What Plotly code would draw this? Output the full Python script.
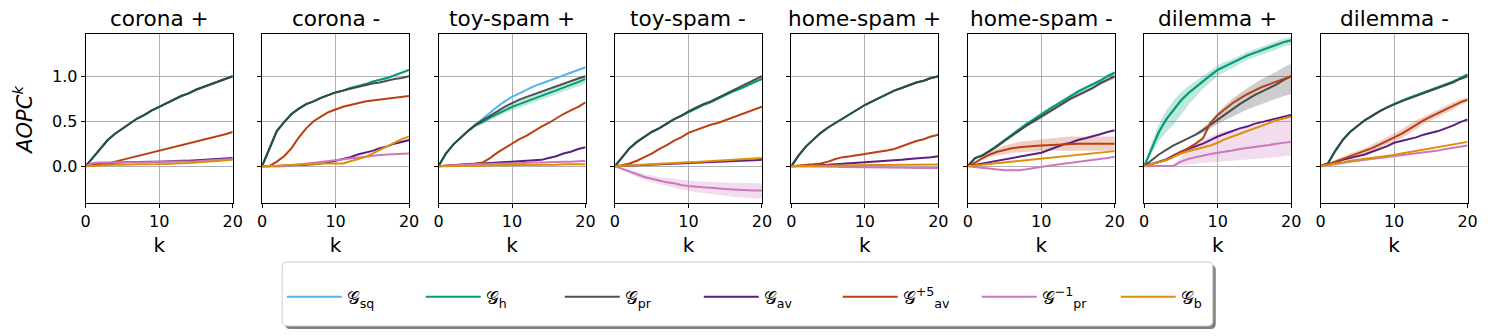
import plotly.graph_objects as go

# ---------------- data ----------------
k = list(range(21))

panel_titles = ["corona +", "corona -", "toy-spam +", "toy-spam -",
                "home-spam +", "home-spam -", "dilemma +", "dilemma -"]

series_keys = ["sq", "h", "pr", "av", "av5", "pr1", "b"]
series_names = ["𝒢<sub>sq</sub>", "𝒢<sub>h</sub>", "𝒢<sub>pr</sub>", "𝒢<sub>av</sub>",
                "𝒢<sup>+5</sup><sub>av</sub>", "𝒢<sup>−1</sup><sub>pr</sub>", "𝒢<sub>b</sub>"]
series_colors = ["#56B4E9", "#029E73", "#3D3D3D", "#5C1F80", "#BA4012", "#CC78BC", "#DE8F05"]

corona_pos = dict(
    sq=[0, 0.10, 0.20, 0.29, 0.36, 0.42, 0.47, 0.53, 0.57, 0.62, 0.66, 0.70, 0.74, 0.78, 0.81, 0.85, 0.88, 0.91, 0.94, 0.97, 1.0],
    h=[0, 0.10, 0.20, 0.29, 0.36, 0.42, 0.47, 0.53, 0.57, 0.62, 0.66, 0.70, 0.74, 0.78, 0.81, 0.85, 0.88, 0.91, 0.94, 0.97, 1.0],
    pr=[0, 0.10, 0.20, 0.29, 0.36, 0.42, 0.47, 0.53, 0.57, 0.62, 0.66, 0.70, 0.74, 0.78, 0.81, 0.85, 0.88, 0.91, 0.94, 0.97, 1.0],
    av=[0, 0.02, 0.03, 0.035, 0.04, 0.04, 0.045, 0.045, 0.05, 0.05, 0.05, 0.055, 0.055, 0.06, 0.06, 0.065, 0.07, 0.075, 0.08, 0.085, 0.09],
    av5=[0, 0.01, 0.02, 0.03, 0.05, 0.07, 0.09, 0.11, 0.13, 0.15, 0.17, 0.19, 0.21, 0.23, 0.25, 0.27, 0.29, 0.31, 0.33, 0.355, 0.38],
    pr1=[0, 0.035, 0.04, 0.04, 0.04, 0.04, 0.045, 0.045, 0.045, 0.045, 0.05, 0.05, 0.05, 0.05, 0.055, 0.055, 0.06, 0.065, 0.07, 0.075, 0.08],
    b=[0, 0.005, 0.01, 0.01, 0.015, 0.015, 0.02, 0.02, 0.02, 0.02, 0.025, 0.025, 0.03, 0.03, 0.035, 0.04, 0.045, 0.05, 0.06, 0.065, 0.07],
)
corona_neg = dict(
    sq=[0, 0.20, 0.39, 0.49, 0.58, 0.64, 0.69, 0.72, 0.76, 0.79, 0.82, 0.84, 0.87, 0.89, 0.91, 0.94, 0.96, 0.98, 1.01, 1.04, 1.07],
    h=[0, 0.20, 0.39, 0.49, 0.58, 0.64, 0.69, 0.72, 0.76, 0.79, 0.82, 0.84, 0.87, 0.89, 0.91, 0.94, 0.96, 0.98, 1.01, 1.04, 1.07],
    pr=[0, 0.20, 0.39, 0.49, 0.58, 0.64, 0.69, 0.72, 0.76, 0.79, 0.82, 0.84, 0.86, 0.88, 0.90, 0.92, 0.93, 0.95, 0.97, 0.98, 1.0],
    av=[0, 0.0, 0.0, 0.005, 0.01, 0.01, 0.015, 0.02, 0.03, 0.04, 0.06, 0.08, 0.10, 0.13, 0.15, 0.17, 0.20, 0.22, 0.25, 0.27, 0.29],
    av5=[0, 0.0, 0.05, 0.11, 0.20, 0.32, 0.42, 0.50, 0.55, 0.60, 0.63, 0.66, 0.68, 0.70, 0.72, 0.73, 0.74, 0.75, 0.76, 0.77, 0.78],
    pr1=[0, -0.005, -0.005, 0.0, 0.01, 0.02, 0.03, 0.04, 0.05, 0.06, 0.07, 0.08, 0.09, 0.10, 0.11, 0.12, 0.125, 0.13, 0.135, 0.14, 0.14],
    b=[0, 0.0, 0.005, 0.01, 0.015, 0.02, 0.025, 0.03, 0.03, 0.03, 0.03, 0.03, 0.055, 0.08, 0.10, 0.14, 0.18, 0.22, 0.26, 0.30, 0.33],
)
toyspam_pos = dict(
    sq=[0, 0.14, 0.24, 0.32, 0.39, 0.46, 0.53, 0.60, 0.66, 0.72, 0.77, 0.81, 0.85, 0.89, 0.92, 0.95, 0.98, 1.01, 1.04, 1.07, 1.10],
    h=[0, 0.14, 0.24, 0.32, 0.39, 0.45, 0.49, 0.54, 0.58, 0.62, 0.66, 0.69, 0.72, 0.75, 0.78, 0.81, 0.84, 0.87, 0.90, 0.935, 0.97],
    pr=[0, 0.14, 0.24, 0.32, 0.39, 0.46, 0.51, 0.56, 0.61, 0.66, 0.70, 0.74, 0.77, 0.80, 0.83, 0.86, 0.89, 0.92, 0.95, 0.975, 1.0],
    av=[0, 0.005, 0.01, 0.015, 0.02, 0.025, 0.03, 0.035, 0.04, 0.045, 0.05, 0.055, 0.06, 0.065, 0.07, 0.09, 0.11, 0.14, 0.16, 0.19, 0.21],
    av5=[0, 0.005, 0.01, 0.015, 0.02, 0.03, 0.04, 0.09, 0.15, 0.20, 0.25, 0.30, 0.34, 0.39, 0.44, 0.48, 0.53, 0.58, 0.62, 0.66, 0.71],
    pr1=[0, 0.005, 0.01, 0.015, 0.02, 0.02, 0.02, 0.025, 0.025, 0.03, 0.03, 0.035, 0.035, 0.04, 0.04, 0.045, 0.045, 0.05, 0.05, 0.055, 0.06],
    b=[0, 0.0, 0.0, 0.005, 0.005, 0.005, 0.005, 0.01, 0.01, 0.01, 0.01, 0.01, 0.01, 0.015, 0.015, 0.015, 0.015, 0.02, 0.02, 0.02, 0.02],
)
toyspam_neg = dict(
    sq=[0, 0.10, 0.20, 0.27, 0.33, 0.38, 0.42, 0.47, 0.52, 0.56, 0.60, 0.64, 0.68, 0.71, 0.75, 0.79, 0.83, 0.86, 0.90, 0.935, 0.97],
    h=[0, 0.10, 0.20, 0.27, 0.33, 0.38, 0.42, 0.47, 0.52, 0.56, 0.60, 0.64, 0.68, 0.71, 0.75, 0.79, 0.83, 0.86, 0.90, 0.935, 0.97],
    pr=[0, 0.10, 0.20, 0.27, 0.33, 0.38, 0.42, 0.47, 0.52, 0.56, 0.61, 0.65, 0.69, 0.72, 0.76, 0.80, 0.84, 0.88, 0.92, 0.96, 1.0],
    av=[0, 0.003, 0.006, 0.01, 0.013, 0.016, 0.02, 0.023, 0.026, 0.03, 0.033, 0.036, 0.04, 0.043, 0.046, 0.05, 0.054, 0.058, 0.062, 0.066, 0.07],
    av5=[0, 0.01, 0.03, 0.06, 0.10, 0.14, 0.19, 0.23, 0.28, 0.32, 0.37, 0.40, 0.43, 0.46, 0.48, 0.51, 0.54, 0.57, 0.60, 0.63, 0.66],
    pr1=[0, -0.03, -0.06, -0.09, -0.12, -0.14, -0.16, -0.18, -0.19, -0.21, -0.22, -0.23, -0.235, -0.24, -0.25, -0.255, -0.26, -0.265, -0.27, -0.27, -0.27],
    b=[0, 0.005, 0.01, 0.014, 0.018, 0.022, 0.026, 0.03, 0.034, 0.038, 0.042, 0.046, 0.05, 0.054, 0.058, 0.062, 0.066, 0.07, 0.075, 0.08, 0.09],
)
homespam_pos = dict(
    sq=[0, 0.12, 0.22, 0.30, 0.37, 0.43, 0.48, 0.53, 0.58, 0.63, 0.68, 0.72, 0.76, 0.80, 0.84, 0.87, 0.90, 0.93, 0.95, 0.98, 1.0],
    h=[0, 0.12, 0.22, 0.30, 0.37, 0.43, 0.48, 0.53, 0.58, 0.63, 0.68, 0.72, 0.76, 0.80, 0.84, 0.87, 0.90, 0.93, 0.95, 0.98, 1.0],
    pr=[0, 0.12, 0.22, 0.30, 0.37, 0.43, 0.48, 0.53, 0.58, 0.63, 0.68, 0.72, 0.76, 0.80, 0.84, 0.87, 0.90, 0.93, 0.95, 0.98, 1.0],
    av=[0, 0.0, 0.005, 0.01, 0.01, 0.015, 0.02, 0.025, 0.03, 0.035, 0.04, 0.045, 0.05, 0.06, 0.065, 0.07, 0.08, 0.085, 0.09, 0.10, 0.11],
    av5=[0, 0.005, 0.01, 0.02, 0.03, 0.05, 0.08, 0.10, 0.11, 0.12, 0.135, 0.15, 0.16, 0.175, 0.19, 0.22, 0.25, 0.28, 0.30, 0.33, 0.35],
    pr1=[0, 0.0, 0.0, -0.002, -0.004, -0.006, -0.008, -0.01, -0.01, -0.012, -0.012, -0.014, -0.014, -0.016, -0.016, -0.018, -0.018, -0.02, -0.02, -0.02, -0.02],
    b=[0, 0.002, 0.004, 0.006, 0.008, 0.01, 0.01, 0.012, 0.012, 0.013, 0.013, 0.014, 0.014, 0.015, 0.015, 0.016, 0.016, 0.017, 0.017, 0.018, 0.018],
)
homespam_neg = dict(
    sq=[0, 0.09, 0.12, 0.17, 0.23, 0.29, 0.35, 0.41, 0.47, 0.52, 0.58, 0.63, 0.68, 0.73, 0.78, 0.83, 0.87, 0.91, 0.95, 1.0, 1.04],
    h=[0, 0.09, 0.12, 0.17, 0.23, 0.29, 0.35, 0.41, 0.47, 0.52, 0.58, 0.63, 0.68, 0.73, 0.78, 0.83, 0.87, 0.91, 0.95, 1.0, 1.04],
    pr=[0, 0.09, 0.12, 0.17, 0.22, 0.28, 0.34, 0.39, 0.45, 0.50, 0.55, 0.60, 0.65, 0.70, 0.75, 0.79, 0.83, 0.87, 0.92, 0.96, 1.0],
    av=[0, 0.015, 0.03, 0.045, 0.06, 0.075, 0.09, 0.105, 0.12, 0.135, 0.15, 0.18, 0.21, 0.24, 0.26, 0.29, 0.31, 0.33, 0.355, 0.38, 0.40],
    av5=[0, 0.04, 0.09, 0.13, 0.16, 0.18, 0.20, 0.21, 0.22, 0.225, 0.23, 0.235, 0.24, 0.245, 0.25, 0.25, 0.25, 0.25, 0.25, 0.25, 0.25],
    pr1=[0, -0.01, -0.02, -0.03, -0.04, -0.045, -0.045, -0.045, -0.035, -0.02, -0.005, 0.005, 0.015, 0.025, 0.035, 0.045, 0.055, 0.065, 0.075, 0.09, 0.104],
    b=[0, 0.008, 0.017, 0.025, 0.033, 0.042, 0.05, 0.058, 0.067, 0.075, 0.083, 0.092, 0.10, 0.108, 0.117, 0.125, 0.133, 0.142, 0.15, 0.158, 0.167],
)
dilemma_pos = dict(
    sq=[0, 0.20, 0.38, 0.52, 0.63, 0.73, 0.81, 0.88, 0.95, 1.01, 1.07, 1.11, 1.15, 1.19, 1.23, 1.26, 1.29, 1.32, 1.35, 1.38, 1.40],
    h=[0, 0.20, 0.38, 0.52, 0.63, 0.73, 0.81, 0.88, 0.95, 1.01, 1.07, 1.11, 1.15, 1.19, 1.23, 1.26, 1.29, 1.32, 1.35, 1.38, 1.40],
    pr=[0, 0.07, 0.13, 0.18, 0.23, 0.27, 0.31, 0.35, 0.40, 0.46, 0.52, 0.58, 0.64, 0.69, 0.74, 0.79, 0.83, 0.87, 0.91, 0.96, 1.0],
    av=[0, 0.025, 0.05, 0.075, 0.12, 0.16, 0.19, 0.22, 0.25, 0.29, 0.33, 0.36, 0.39, 0.42, 0.44, 0.47, 0.49, 0.51, 0.53, 0.55, 0.57],
    av5=[0, 0.025, 0.045, 0.067, 0.11, 0.16, 0.20, 0.25, 0.31, 0.48, 0.57, 0.64, 0.70, 0.75, 0.80, 0.84, 0.88, 0.91, 0.94, 0.97, 1.0],
    pr1=[0, 0.0, 0.0, 0.0, 0.005, 0.05, 0.08, 0.10, 0.12, 0.135, 0.15, 0.16, 0.175, 0.19, 0.20, 0.21, 0.225, 0.235, 0.25, 0.26, 0.27],
    b=[0, 0.025, 0.045, 0.065, 0.10, 0.14, 0.165, 0.185, 0.205, 0.23, 0.26, 0.30, 0.33, 0.36, 0.39, 0.42, 0.45, 0.48, 0.51, 0.53, 0.55],
)
dilemma_neg = dict(
    sq=[0, 0.03, 0.17, 0.29, 0.38, 0.45, 0.51, 0.56, 0.61, 0.65, 0.69, 0.725, 0.76, 0.79, 0.82, 0.85, 0.88, 0.91, 0.94, 0.98, 1.02],
    h=[0, 0.03, 0.17, 0.29, 0.38, 0.45, 0.51, 0.56, 0.61, 0.65, 0.69, 0.725, 0.76, 0.79, 0.82, 0.85, 0.88, 0.91, 0.94, 0.98, 1.02],
    pr=[0, 0.03, 0.17, 0.29, 0.38, 0.45, 0.51, 0.56, 0.61, 0.65, 0.69, 0.72, 0.75, 0.78, 0.81, 0.84, 0.87, 0.90, 0.93, 0.97, 1.0],
    av=[0, 0.02, 0.04, 0.07, 0.09, 0.11, 0.13, 0.16, 0.19, 0.22, 0.26, 0.28, 0.30, 0.32, 0.35, 0.37, 0.39, 0.42, 0.45, 0.49, 0.52],
    av5=[0, 0.02, 0.05, 0.08, 0.11, 0.14, 0.17, 0.20, 0.24, 0.28, 0.32, 0.36, 0.41, 0.46, 0.51, 0.55, 0.59, 0.63, 0.67, 0.71, 0.74],
    pr1=[0, 0.01, 0.025, 0.035, 0.05, 0.06, 0.07, 0.08, 0.09, 0.10, 0.11, 0.12, 0.13, 0.14, 0.15, 0.16, 0.175, 0.19, 0.205, 0.22, 0.23],
    b=[0, 0.01, 0.03, 0.04, 0.06, 0.07, 0.08, 0.09, 0.10, 0.11, 0.125, 0.14, 0.155, 0.17, 0.185, 0.20, 0.21, 0.225, 0.24, 0.255, 0.27],
)

# uncertainty bands (lower, upper) where visible
toyspam_pos_bands = dict(
    h=([0, 0.14, 0.24, 0.32, 0.38, 0.44, 0.47, 0.51, 0.55, 0.59, 0.62, 0.65, 0.68, 0.71, 0.74, 0.77, 0.80, 0.83, 0.86, 0.89, 0.92],
       [0, 0.14, 0.24, 0.32, 0.40, 0.46, 0.51, 0.56, 0.61, 0.65, 0.69, 0.73, 0.76, 0.79, 0.82, 0.85, 0.88, 0.91, 0.94, 0.98, 1.02]),
)
toyspam_neg_bands = dict(
    pr1=([0, -0.04, -0.08, -0.12, -0.15, -0.18, -0.20, -0.22, -0.24, -0.26, -0.27, -0.29, -0.30, -0.31, -0.32, -0.33, -0.34, -0.35, -0.35, -0.36, -0.36],
         [0, -0.02, -0.04, -0.06, -0.09, -0.10, -0.12, -0.13, -0.14, -0.15, -0.16, -0.17, -0.17, -0.175, -0.18, -0.18, -0.185, -0.185, -0.19, -0.19, -0.19]),
)
homespam_neg_bands = dict(
    h=([0, 0.09, 0.12, 0.16, 0.22, 0.28, 0.34, 0.40, 0.46, 0.50, 0.56, 0.61, 0.66, 0.71, 0.76, 0.81, 0.85, 0.89, 0.93, 0.98, 1.02],
       [0, 0.09, 0.12, 0.18, 0.24, 0.30, 0.36, 0.42, 0.48, 0.54, 0.60, 0.65, 0.70, 0.75, 0.80, 0.85, 0.89, 0.93, 0.97, 1.02, 1.06]),
    pr=([0, 0.09, 0.12, 0.16, 0.21, 0.27, 0.33, 0.38, 0.44, 0.48, 0.53, 0.58, 0.63, 0.68, 0.73, 0.77, 0.81, 0.85, 0.90, 0.94, 0.97],
        [0, 0.09, 0.12, 0.18, 0.23, 0.29, 0.35, 0.40, 0.46, 0.52, 0.57, 0.62, 0.67, 0.72, 0.77, 0.81, 0.85, 0.89, 0.94, 0.98, 1.02]),
    av5=([0, 0.03, 0.07, 0.10, 0.12, 0.13, 0.15, 0.155, 0.16, 0.165, 0.17, 0.17, 0.17, 0.17, 0.17, 0.17, 0.17, 0.17, 0.17, 0.17, 0.17],
         [0, 0.05, 0.11, 0.16, 0.20, 0.23, 0.25, 0.27, 0.28, 0.29, 0.30, 0.31, 0.32, 0.325, 0.33, 0.33, 0.33, 0.33, 0.33, 0.33, 0.33]),
)
dilemma_pos_bands = dict(
    h=([0, 0.14, 0.28, 0.38, 0.46, 0.57, 0.68, 0.77, 0.86, 0.93, 1.00, 1.05, 1.09, 1.14, 1.18, 1.21, 1.24, 1.27, 1.30, 1.33, 1.35],
       [0, 0.26, 0.47, 0.62, 0.73, 0.82, 0.89, 0.95, 1.01, 1.06, 1.12, 1.16, 1.19, 1.23, 1.27, 1.30, 1.33, 1.36, 1.39, 1.42, 1.44]),
    pr=([0, 0.07, 0.13, 0.18, 0.23, 0.27, 0.31, 0.34, 0.37, 0.42, 0.47, 0.51, 0.55, 0.59, 0.63, 0.66, 0.69, 0.72, 0.75, 0.78, 0.80],
        [0, 0.07, 0.13, 0.18, 0.23, 0.27, 0.31, 0.36, 0.43, 0.50, 0.60, 0.68, 0.75, 0.81, 0.87, 0.92, 0.97, 1.01, 1.05, 1.10, 1.14]),
    pr1=([0, 0, 0, 0, 0, 0.01, 0.02, 0.03, 0.035, 0.04, 0.05, 0.055, 0.06, 0.07, 0.075, 0.08, 0.09, 0.095, 0.10, 0.11, 0.12],
         [0, 0, 0, 0, 0.01, 0.10, 0.18, 0.24, 0.29, 0.33, 0.37, 0.39, 0.41, 0.43, 0.44, 0.45, 0.47, 0.48, 0.50, 0.51, 0.53]),
)
dilemma_neg_bands = dict(
    av5=([0, 0.01, 0.03, 0.06, 0.08, 0.11, 0.14, 0.16, 0.20, 0.24, 0.28, 0.31, 0.36, 0.41, 0.47, 0.51, 0.55, 0.59, 0.63, 0.68, 0.71],
         [0, 0.03, 0.07, 0.10, 0.14, 0.17, 0.20, 0.24, 0.28, 0.32, 0.36, 0.41, 0.46, 0.51, 0.55, 0.59, 0.63, 0.67, 0.71, 0.74, 0.77]),
)

panels = [corona_pos, corona_neg, toyspam_pos, toyspam_neg,
          homespam_pos, homespam_neg, dilemma_pos, dilemma_neg]
panel_bands = [{}, {}, toyspam_pos_bands, toyspam_neg_bands,
               {}, homespam_neg_bands, dilemma_pos_bands, dilemma_neg_bands]

y_ticks = [0.0, 0.5, 1.0]
y_tick_text = ["0.0", "0.5", "1.0"]
x_ticks = [0, 10, 20]

# ---------------- layout geometry ----------------
W, H = 1498, 336
left0, pitch, pw = 81.5, 178.2, 148.5
top_px, bot_px = 34, 203


def hex_rgba(h, a):
    h = h.lstrip("#")
    return "rgba(%d,%d,%d,%.2f)" % (int(h[0:2], 16), int(h[2:4], 16), int(h[4:6], 16), a)


fig = go.Figure()

for i, (data, bands) in enumerate(zip(panels, panel_bands)):
    xa = "x" if i == 0 else "x%d" % (i + 1)
    ya = "y" if i == 0 else "y%d" % (i + 1)
    for key, name, col in zip(series_keys, series_names, series_colors):
        if key in bands:
            lo, hi = bands[key]
            fig.add_trace(go.Scatter(x=k, y=hi, mode="lines", line=dict(width=0),
                                     xaxis=xa, yaxis=ya, showlegend=False, hoverinfo="skip"))
            fig.add_trace(go.Scatter(x=k, y=lo, mode="lines", line=dict(width=0),
                                     fill="tonexty", fillcolor=hex_rgba(col, 0.25),
                                     xaxis=xa, yaxis=ya, showlegend=False, hoverinfo="skip"))
    for key, name, col in zip(series_keys, series_names, series_colors):
        fig.add_trace(go.Scatter(x=k, y=data[key], mode="lines", name=name,
                                 line=dict(color=col, width=2),
                                 opacity=0.9 if key == "pr" else 1.0,
                                 xaxis=xa, yaxis=ya, showlegend=(i == 0),
                                 legendgroup=key))

axis_common = dict(showline=True, linecolor="black", linewidth=1, mirror=True,
                   ticks="outside", ticklen=4, tickwidth=1, tickcolor="black",
                   showgrid=True, gridcolor="#b0b0b0", gridwidth=0.8, zeroline=False,
                   tickfont=dict(family="DejaVu Sans", size=16, color="black"))

annotations = []
for i in range(8):
    x0 = (left0 + pitch * i) / W
    x1 = (left0 + pitch * i + pw) / W
    suffix = "" if i == 0 else str(i + 1)
    fig.layout["xaxis" + suffix] = dict(
        domain=[x0, x1], range=[0, 20], tickvals=x_ticks, anchor="y" + suffix,
        title=dict(text="k", font=dict(family="DejaVu Sans", size=20, color="black"), standoff=7),
        **axis_common)
    fig.layout["yaxis" + suffix] = dict(
        domain=[(H - bot_px) / H, (H - top_px) / H], range=[-0.41, 1.47],
        tickvals=y_ticks, ticktext=y_tick_text, anchor="x" + suffix,
        showticklabels=(i == 0), **axis_common)
    annotations.append(dict(text=panel_titles[i], x=(x0 + x1) / 2, y=(H - 18) / H,
                            xref="paper", yref="paper", showarrow=False,
                            xanchor="center", yanchor="middle",
                            font=dict(family="DejaVu Sans", size=21.6, color="black")))

annotations.append(dict(text="<i>AOPC</i><sup><i>k</i></sup>", x=18 / W, y=(H - 120) / H,
                        xref="paper", yref="paper", showarrow=False, textangle=-90,
                        xanchor="center", yanchor="middle",
                        font=dict(family="DejaVu Sans", size=21, color="black")))


# legend frame (rounded, with shadow)
def rounded_rect(x0, y0, x1, y1, r):
    X = lambda v: v / W
    Y = lambda v: (H - v) / H
    return ("M %f,%f L %f,%f Q %f,%f %f,%f L %f,%f Q %f,%f %f,%f L %f,%f Q %f,%f %f,%f "
            "L %f,%f Q %f,%f %f,%f Z") % (
        X(x0 + r), Y(y0), X(x1 - r), Y(y0), X(x1), Y(y0), X(x1), Y(y0 + r),
        X(x1), Y(y1 - r), X(x1), Y(y1), X(x1 - r), Y(y1),
        X(x0 + r), Y(y1), X(x0), Y(y1), X(x0), Y(y1 - r),
        X(x0), Y(y0 + r), X(x0), Y(y0), X(x0 + r), Y(y0))


shapes = [
    dict(type="path", xref="paper", yref="paper", path=rounded_rect(283, 265, 1223, 329, 5),
         fillcolor="#808080", line=dict(width=0), layer="below"),
    dict(type="path", xref="paper", yref="paper", path=rounded_rect(280, 262, 1220, 326, 5),
         fillcolor="white", line=dict(color="#cccccc", width=1), layer="below"),
]

fig.update_layout(
    width=W, height=H, margin=dict(l=0, r=0, t=0, b=0),
    paper_bgcolor="white", plot_bgcolor="white",
    font=dict(family="DejaVu Sans", color="black"),
    annotations=annotations, shapes=shapes,
    legend=dict(orientation="h", x=0.5 + 22 / W, xanchor="center", y=(H - 297) / H, yanchor="middle",
                bgcolor="rgba(0,0,0,0)", borderwidth=0,
                font=dict(family="DejaVu Sans", size=18, color="black"),
                entrywidth=69, entrywidthmode="pixels", itemwidth=55, tracegroupgap=0),
)

fig.write_html("out.html", config={"displayModeBar": False},
               post_script="document.body.style.margin='0';")
